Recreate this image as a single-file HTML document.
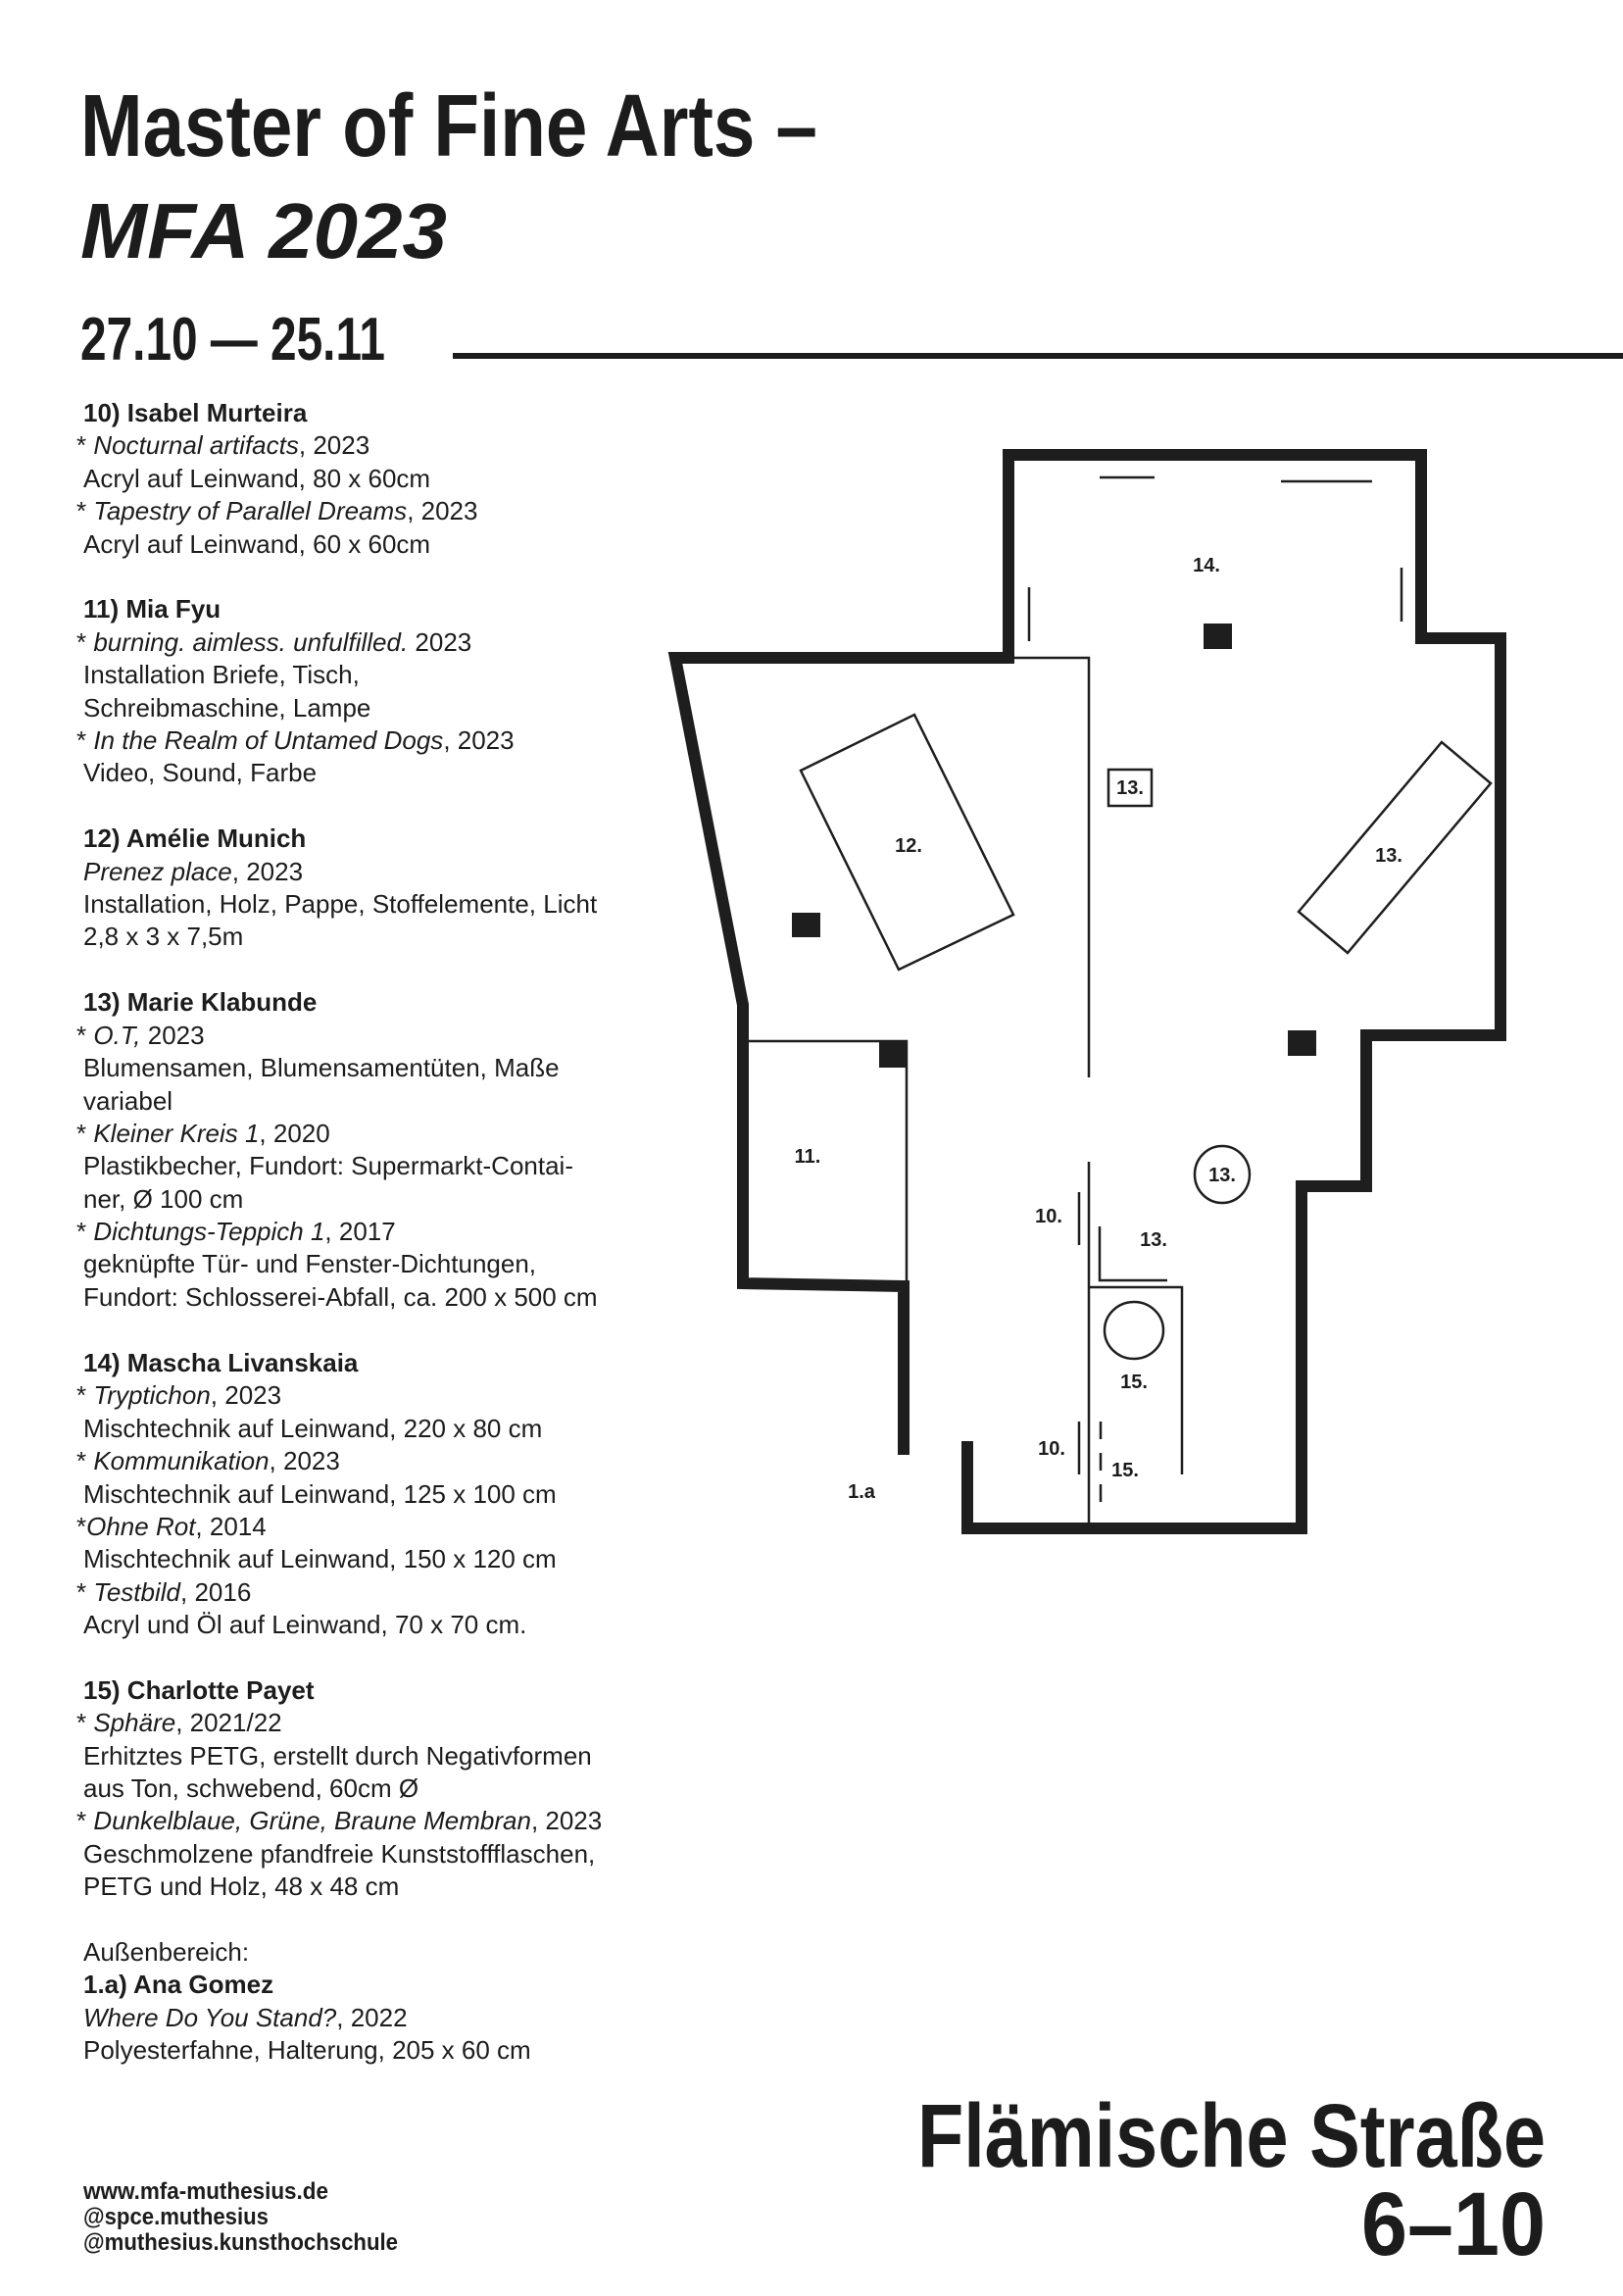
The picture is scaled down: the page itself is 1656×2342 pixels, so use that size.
<!DOCTYPE html>
<html><head><meta charset="utf-8"><style>
html,body{margin:0;padding:0;background:#fff;}
svg{display:block;}
.b{font-family:"Liberation Sans",sans-serif;font-size:26px;fill:#1c1c1c;}
.h{font-weight:bold;}
.l{font-family:"Liberation Sans",sans-serif;font-size:20px;font-weight:bold;fill:#1c1c1c;}
.c{font-family:"Liberation Sans Narrow","Liberation Sans",sans-serif;font-weight:bold;fill:#1c1c1c;}
</style></head><body>
<svg width="1656" height="2342" viewBox="0 0 1656 2342" xmlns="http://www.w3.org/2000/svg">
<rect width="1656" height="2342" fill="#fff"/>
<text class="c" x="82" y="159" font-size="90" textLength="752" lengthAdjust="spacingAndGlyphs">Master of Fine Arts –</text>
<text x="82" y="263" font-family="Liberation Sans,sans-serif" font-weight="bold" font-style="italic" font-size="80" fill="#1c1c1c" textLength="374" lengthAdjust="spacingAndGlyphs">MFA 2023</text>
<text class="c" x="82" y="367" font-size="62" textLength="311" lengthAdjust="spacingAndGlyphs">27.10 — 25.11</text>
<rect x="462" y="360" width="1194" height="6" fill="#1c1c1c"/>

<g class="b">
<text class="h" x="85" y="430">10) Isabel Murteira</text>
<text x="78" y="463">* <tspan font-style="italic">Nocturnal artifacts</tspan>, 2023</text>
<text x="85" y="497">Acryl auf Leinwand, 80 x 60cm</text>
<text x="78" y="530">* <tspan font-style="italic">Tapestry of Parallel Dreams</tspan>, 2023</text>
<text x="85" y="564">Acryl auf Leinwand, 60 x 60cm</text>
<text class="h" x="85" y="630">11) Mia Fyu</text>
<text x="78" y="664">* <tspan font-style="italic">burning. aimless. unfulfilled.</tspan> 2023</text>
<text x="85" y="697">Installation Briefe, Tisch,</text>
<text x="85" y="731">Schreibmaschine, Lampe</text>
<text x="78" y="764">* <tspan font-style="italic">In the Realm of Untamed Dogs</tspan>, 2023</text>
<text x="85" y="797">Video, Sound, Farbe</text>
<text class="h" x="85" y="864">12) Amélie Munich</text>
<text x="85" y="898"><tspan font-style="italic">Prenez place</tspan>, 2023</text>
<text x="85" y="931">Installation, Holz, Pappe, Stoffelemente, Licht</text>
<text x="85" y="964">2,8 x 3 x 7,5m</text>
<text class="h" x="85" y="1031">13) Marie Klabunde</text>
<text x="78" y="1065">* <tspan font-style="italic">O.T,</tspan> 2023</text>
<text x="85" y="1098">Blumensamen, Blumensamentüten, Maße</text>
<text x="85" y="1132">variabel</text>
<text x="78" y="1165">* <tspan font-style="italic">Kleiner Kreis 1</tspan>, 2020</text>
<text x="85" y="1198">Plastikbecher, Fundort: Supermarkt-Contai-</text>
<text x="85" y="1232">ner, Ø 100 cm</text>
<text x="78" y="1265">* <tspan font-style="italic">Dichtungs-Teppich 1</tspan>, 2017</text>
<text x="85" y="1298">geknüpfte Tür- und Fenster-Dichtungen,</text>
<text x="85" y="1332">Fundort: Schlosserei-Abfall, ca. 200 x 500 cm</text>
<text class="h" x="85" y="1399">14) Mascha Livanskaia</text>
<text x="78" y="1432">* <tspan font-style="italic">Tryptichon</tspan>, 2023</text>
<text x="85" y="1466">Mischtechnik auf Leinwand, 220 x 80 cm</text>
<text x="78" y="1499">* <tspan font-style="italic">Kommunikation</tspan>, 2023</text>
<text x="85" y="1533">Mischtechnik auf Leinwand, 125 x 100 cm</text>
<text x="78" y="1566">*<tspan font-style="italic">Ohne Rot</tspan>, 2014</text>
<text x="85" y="1599">Mischtechnik auf Leinwand, 150 x 120 cm</text>
<text x="78" y="1633">* <tspan font-style="italic">Testbild</tspan>, 2016</text>
<text x="85" y="1666">Acryl und Öl auf Leinwand, 70 x 70 cm.</text>
<text class="h" x="85" y="1733">15) Charlotte Payet</text>
<text x="78" y="1766">* <tspan font-style="italic">Sphäre</tspan>, 2021/22</text>
<text x="85" y="1800">Erhitztes PETG, erstellt durch Negativformen</text>
<text x="85" y="1833">aus Ton, schwebend, 60cm Ø</text>
<text x="78" y="1866">* <tspan font-style="italic">Dunkelblaue, Grüne, Braune Membran</tspan>, 2023</text>
<text x="85" y="1900">Geschmolzene pfandfreie Kunststoffflaschen,</text>
<text x="85" y="1933">PETG und Holz, 48 x 48 cm</text>
<text x="85" y="2000">Außenbereich:</text>
<text class="h" x="85" y="2033">1.a) Ana Gomez</text>
<text x="85" y="2067"><tspan font-style="italic">Where Do You Stand?</tspan>, 2022</text>
<text x="85" y="2100">Polyesterfahne, Halterung, 205 x 60 cm</text>
</g>

<text class="c" x="85" y="2243" font-size="24" textLength="250" lengthAdjust="spacingAndGlyphs">www.mfa-muthesius.de</text>
<text class="c" x="85" y="2269" font-size="24" textLength="189" lengthAdjust="spacingAndGlyphs">@spce.muthesius</text>
<text class="c" x="85" y="2295" font-size="24" textLength="321" lengthAdjust="spacingAndGlyphs">@muthesius.kunsthochschule</text>
<text class="c" x="936" y="2210" font-size="92" textLength="641" lengthAdjust="spacingAndGlyphs">Flämische Straße</text>
<text class="c" x="1389" y="2300" font-size="92" textLength="188" lengthAdjust="spacingAndGlyphs">6–10</text>

<g fill="none" stroke="#1e1e1e" stroke-width="12" stroke-linejoin="miter" stroke-linecap="butt">
<polyline points="922,1484 922,1312 758,1309 758,1025 689,671 1029,671 1029,464 1450,464 1450,651 1531,651 1531,1056 1394,1056 1394,1210 1328,1210 1328,1559 987,1559 987,1470"/>
</g>
<g fill="none" stroke="#1e1e1e" stroke-width="2.5">
<polyline points="1035,671 1111,671 1111,1099"/>
<line x1="1111" y1="1185" x2="1111" y2="1554"/>
<polyline points="758,1062 925,1062 925,1312"/>
<line x1="1122" y1="487" x2="1178" y2="487"/>
<line x1="1307" y1="491" x2="1400" y2="491"/>
<line x1="1050" y1="599" x2="1050" y2="654"/>
<line x1="1430" y1="579" x2="1430" y2="634"/>
<polygon points="817,786 933,729 1034,933 917,989"/>
<polygon points="1325,930 1471,757 1521,799 1375,972"/>
<rect x="1131" y="785" width="44" height="37"/>
<ellipse cx="1247" cy="1198" rx="28" ry="29"/>
<line x1="1101" y1="1216" x2="1101" y2="1270"/>
<line x1="1101" y1="1450" x2="1101" y2="1504"/>
<polyline points="1122,1251 1122,1306 1191,1306"/>
<polyline points="1111,1313 1206,1313 1206,1504"/>
<ellipse cx="1157" cy="1357" rx="30" ry="29"/>
<line x1="1123" y1="1450" x2="1123" y2="1532" stroke-dasharray="18,14"/>
</g>
<g fill="#1e1e1e">
<rect x="897" y="1062" width="28" height="27"/>
<rect x="1228" y="636" width="29" height="26"/>
<rect x="808" y="931" width="29" height="25"/>
<rect x="1314" y="1051" width="29" height="26"/>
</g>
<g class="l" text-anchor="middle">
<text x="1231" y="583">14.</text>
<text x="1153" y="810">13.</text>
<text x="927" y="869">12.</text>
<text x="1417" y="879">13.</text>
<text x="824" y="1186">11.</text>
<text x="1247" y="1205">13.</text>
<text x="1070" y="1247">10.</text>
<text x="1177" y="1271">13.</text>
<text x="1157" y="1416">15.</text>
<text x="1073" y="1484">10.</text>
<text x="1148" y="1506">15.</text>
<text x="879" y="1528">1.a</text>
</g>
</svg>
</body></html>
